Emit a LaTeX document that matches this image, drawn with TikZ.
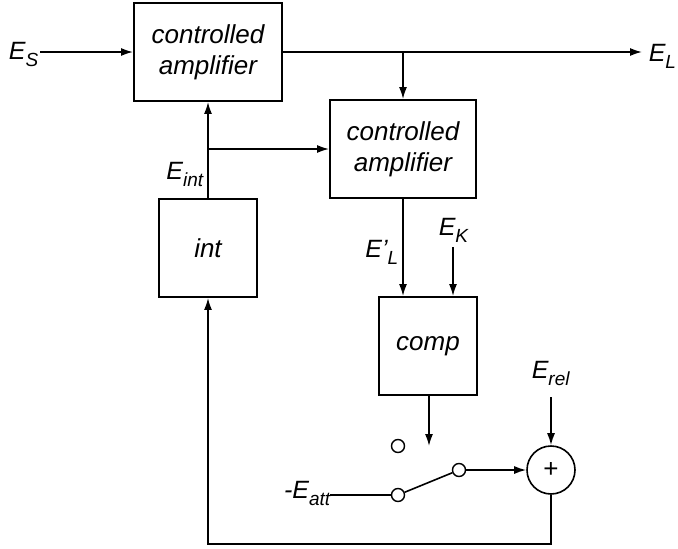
\documentclass[tikz,border=0pt]{standalone}
\usepackage{fontspec}
\setmainfont{Liberation Sans}
\usetikzlibrary{arrows.meta}
\newcommand{\Esub}[2][]{\textit{E#1\raisebox{-7pt}{\fontsize{19}{19}\selectfont #2}}}
\begin{document}
\begin{tikzpicture}[x=1pt,y=-1pt,
  line width=1.6pt,
  blk/.style={draw, line width=1.9pt, align=center, inner sep=0pt,
    font=\fontsize{26}{31}\selectfont\itshape},
  lbl/.style={inner sep=0pt, font=\fontsize{25}{25}\selectfont},
  contact/.style={circle, draw, line width=1.4pt, fill=white, minimum size=13pt, inner sep=0pt},
  arr/.style={-{Latex[length=12pt,width=8pt]}}]
\useasboundingbox (0,0) rectangle (678,549);
% blocks
\node[blk, minimum width=148pt, minimum height=98pt] (amp1) at (208,52) {controlled\\amplifier};
\node[blk, minimum width=146pt, minimum height=98pt] (amp2) at (403,149) {controlled\\amplifier};
\node[blk, minimum width=98pt, minimum height=98pt] (int) at (208,248) {int};
\node[blk, minimum width=98pt, minimum height=98pt] (comp) at (428,346) {comp};
\node[circle, draw, line width=1.6pt, minimum size=48pt, inner sep=0pt,
  font=\fontsize{26}{26}\selectfont] (sum) at (551,470) {+};
% switch contacts
\node[contact] (c0) at (398,446) {};
\node[contact] (cL) at (398,495) {};
\node[contact] (cR) at (459,470) {};
% coordinates
\coordinate (es) at (40,52);
\coordinate (el) at (642,52);
\coordinate (br1) at (403,52);
\coordinate (br2) at (208,149);
\coordinate (ek) at (453,247);
\coordinate (cmpout) at (429,446);
\coordinate (eatt) at (330,495);
\coordinate (erel) at (551,397);
\coordinate (fb1) at (551,544);
\coordinate (fb2) at (208,544);
% labels
\node[lbl, anchor=base east] (lES) at (39,59) {\Esub{S}};
\node[lbl, anchor=base west] (lEL) at (648,61) {\Esub{L}};
\node[lbl, anchor=base east] (lEint) at (204,179) {\Esub{int}};
\node[lbl, anchor=base east] (lELp) at (399,257) {\Esub[']{L}};
\node[lbl, anchor=base west] (lEK) at (438,235) {\Esub{K}};
\node[lbl, anchor=base west] (lErel) at (531,378) {\Esub{rel}};
\node[lbl, anchor=base east] (lEatt) at (331,498) {\textit{-}\Esub{att}};
% connectors
\draw[arr] (es) -- (amp1.west);
\draw[arr] (amp1.east) -- (el);
\draw[arr] (br1) -- (amp2.north);
\draw[arr] (int.north) -- (amp1.south);
\draw[arr] (br2) -- (amp2.west);
\draw[arr] (amp2.south) -- (amp2.south |- comp.north);
\draw[arr] (ek) -- (ek |- comp.north);
\draw[arr] (comp.south -| cmpout) -- (cmpout);
\draw (eatt) -- (cL.west);
\draw (cL) -- (cR);
\draw[arr] (cR.east) -- (sum.west);
\draw[arr] (erel) -- (sum.north);
\draw[arr] (sum.south) -- (fb1) -- (fb2) -- (int.south);
\end{tikzpicture}
\end{document}
